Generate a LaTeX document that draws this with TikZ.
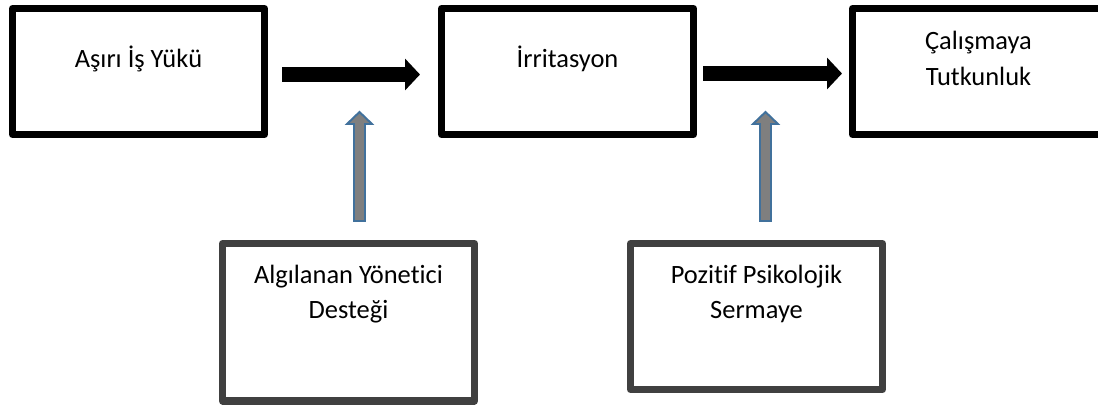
\documentclass[tikz,border=0pt]{standalone}
\usepackage{fontspec}
\setmainfont{Carlito}[Ligatures=NoCommon]
\usepackage{tikz}
\usepackage{xcolor}
\usetikzlibrary{positioning, arrows.meta}
\definecolor{boxgray}{RGB}{64,64,64}
\definecolor{arrowblue}{RGB}{65,113,156}
\definecolor{arrowfill}{RGB}{127,127,127}
\tikzset{
  topbox/.style={draw=black, line width=5pt, line join=round, minimum width=6.3cm,
    minimum height=3.15cm, inner sep=0pt, outer sep=0pt},
  lowbox/.style={draw=boxgray, line width=5pt, line join=round, minimum width=6.3cm,
    inner sep=0pt, outer sep=0pt},
  boxtext/.style={font=\fontsize{18.8}{24.9}\selectfont, align=center, anchor=base, inner sep=0pt},
  flow/.style={line width=0.375cm, -{Triangle[length=0.375cm, width=0.775cm]}},
  modarrow/.style={draw=arrowblue, fill=arrowfill, line width=1.4pt}
}

\begin{document}
\begin{tikzpicture}
\useasboundingbox (0,0) rectangle (27.45,-10.125);
\clip (0,0) rectangle (27.45,-10.125); % third box runs off the page
% top row
\node[topbox] (workload) at (3.4625,-1.7875) {};
\node[topbox] (irritation) at (14.1875,-1.7875) {};
\node[topbox] (passion) at (24.4625,-1.7875) {};
% moderators
\node[lowbox, minimum height=3.9375cm] (support) at (8.7125,-8.05625) {};
\node[lowbox, minimum height=3.65cm] (capital) at (18.9125,-7.9125) {};
% texts (base = last line)
\node[boxtext] (workloadtext) at ([yshift=-1.4625cm]workload.north) {Aşırı İş Yükü};
\node[boxtext] (irritationtext) at ([yshift=-1.4625cm]irritation.north) {İrritasyon};
\node[boxtext] (passiontext) at ([yshift=-1.9125cm]passion.north) {Çalışmaya\\Tutkunluk};
\node[boxtext] (supporttext) at ([yshift=-1.8625cm]support.north) {Algılanan Yönetici\\Desteği};
\node[boxtext] (capitaltext) at ([yshift=-1.8625cm]capital.north) {Pozitif Psikolojik\\Sermaye};
% main path
\draw[flow, shorten <=0.4375cm, shorten >=0.5375cm] ([yshift=-0.075cm]workload.east) -- ([yshift=-0.075cm]irritation.west);
\draw[flow, shorten <=0.2375cm, shorten >=0.2625cm] ([yshift=-0.05cm]irritation.east) -- ([yshift=-0.05cm]passion.west);
% up arrows
\coordinate (supportup) at (8.9875,-5.525);
\coordinate (capitalup) at (19.1375,-5.525);
\draw[modarrow] (supportup) -- ++(0.1375,0) -- ++(0,2.425) -- ++(0.175,0) -- ++(-0.3125,0.3)
  -- ++(-0.3125,-0.3) -- ++(0.175,0) -- ++(0,-2.425) -- cycle;
\draw[modarrow] (capitalup) -- ++(0.1375,0) -- ++(0,2.425) -- ++(0.175,0) -- ++(-0.3125,0.3)
  -- ++(-0.3125,-0.3) -- ++(0.175,0) -- ++(0,-2.425) -- cycle;
\end{tikzpicture}
\end{document}
